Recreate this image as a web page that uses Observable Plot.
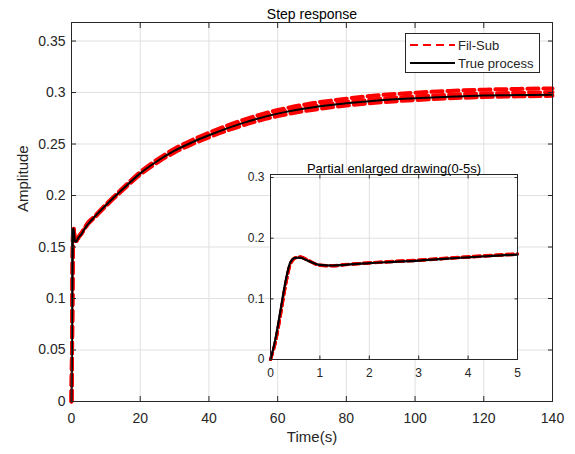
<!DOCTYPE html>
<html>
<head>
<meta charset="utf-8">
<script src="https://cdn.jsdelivr.net/npm/d3@7"></script>
<script src="https://cdn.jsdelivr.net/npm/@observablehq/plot@0.6"></script>
<style>
  html, body { margin: 0; padding: 0; background: white; }
  #wrap { position: relative; width: 575px; height: 454px; overflow: hidden; font-family: "Liberation Sans", Arial, sans-serif; color: #262626; }
  #main, #inset { position: absolute; }
  #main { left: 0; top: 0; }
  #inset { left: 225px; top: 140px; }
  #legend { position: absolute; left: 405px; top: 33px; width: 133px; height: 38px; border: 1px solid #262626; background: white; }
  .lg-row { position: absolute; left: 3px; height: 16px; display: flex; align-items: center; font-size: 13px; color: #262626; white-space: nowrap; }
  .lg-row svg { margin-right: 3px; }
</style>
</head>
<body>
<div id="wrap">
  <div id="main"></div>
  <div id="inset"></div>
  <div id="legend"></div>
</div>
<script>
// ---- data ----
const time = [0, 0.1, 0.2, 0.3, 0.4, 0.5, 0.6, 0.75, 1, 1.25, 1.5, 2, 2.5, 3, 3.5, 4, 4.5, 5, 6.5, 10, 15, 20, 25, 30, 35, 40, 50, 60, 70, 80, 90, 100, 110, 120, 130, 140];
const trueProcess = [0, 0.034, 0.080, 0.127, 0.160, 0.1675, 0.168, 0.163, 0.156, 0.155, 0.156, 0.159, 0.161, 0.163, 0.166, 0.1685, 0.171, 0.173, 0.1785, 0.1905, 0.2065, 0.2215, 0.2335, 0.2435, 0.2515, 0.2585, 0.2705, 0.2795, 0.2855, 0.2895, 0.2925, 0.2945, 0.296, 0.297, 0.2975, 0.2978];
const filSubLow = [0, 0.028, 0.072, 0.120, 0.156, 0.167, 0.169, 0.164, 0.155, 0.154, 0.156, 0.159, 0.1612, 0.1633, 0.1660, 0.1686, 0.1711, 0.1731, 0.1779, 0.1897, 0.2055, 0.2203, 0.2321, 0.2419, 0.2497, 0.2565, 0.2683, 0.2771, 0.2831, 0.2873, 0.2905, 0.2927, 0.2944, 0.2956, 0.2963, 0.2968];
const filSubMid = [0, 0.029, 0.073, 0.121, 0.157, 0.1675, 0.1688, 0.1638, 0.1552, 0.1545, 0.1562, 0.1592, 0.1615, 0.1637, 0.1664, 0.1690, 0.1716, 0.1737, 0.1785, 0.1905, 0.2065, 0.2216, 0.2337, 0.2438, 0.2519, 0.2590, 0.2712, 0.2804, 0.2866, 0.2908, 0.2940, 0.2962, 0.2979, 0.2991, 0.2998, 0.3003];
const filSubHigh = [0, 0.030, 0.074, 0.122, 0.158, 0.168, 0.1692, 0.1642, 0.1556, 0.155, 0.1566, 0.1596, 0.1620, 0.1642, 0.1670, 0.1696, 0.1722, 0.1744, 0.1791, 0.1913, 0.2075, 0.2228, 0.2351, 0.2454, 0.2537, 0.2610, 0.2735, 0.2830, 0.2895, 0.2940, 0.2975, 0.2998, 0.3016, 0.3028, 0.3035, 0.3040];

const mainXTicks = [0, 20, 40, 60, 80, 100, 120, 140];
const mainYTicks = [0, 0.05, 0.1, 0.15, 0.2, 0.25, 0.3, 0.35];
const insetXTicks = [0, 1, 2, 3, 4, 5];
const insetYTicks = [0, 0.1, 0.2, 0.3];

const seriesNames = ["Fil-Sub", "True process"];
const titleText = "Step response";
const insetTitle = "Partial enlarged drawing(0-5s)";
const xLabel = "Time(s)";
const yLabel = "Amplitude";

// ---- tidy tables ----
const filRuns = [filSubLow, filSubMid, filSubHigh];
const redData = filRuns.flatMap((vals, k) => time.map((t, i) => ({t, v: vals[i], run: k})));
const blackData = time.map((t, i) => ({t, v: trueProcess[i]}));
const redInset = redData.filter(d => d.t <= 5);
const blackInset = blackData.filter(d => d.t <= 5);

const FONT = '"Liberation Sans", Arial, sans-serif';
const INK = "#262626";
const GRID = "#e0e0e0";
const fmt = d => String(d);

// ---- main chart ----
const main = Plot.plot({
  width: 575, height: 454,
  marginLeft: 71, marginRight: 23, marginTop: 22, marginBottom: 53,
  style: {fontFamily: FONT, fontSize: "14px", color: INK, background: "white", overflow: "visible"},
  x: {domain: [0, 140]},
  y: {domain: [0, 0.368]},
  marks: [
    Plot.gridX(mainXTicks, {stroke: GRID, strokeOpacity: 1}),
    Plot.gridY(mainYTicks, {stroke: GRID, strokeOpacity: 1}),
    Plot.line(redData, {x: "t", y: "v", z: "run", stroke: "#ff0000", strokeWidth: 4, strokeDasharray: "11,5", curve: "monotone-x"}),
    Plot.line(blackData, {x: "t", y: "v", stroke: "#000", strokeWidth: 2, curve: "monotone-x"}),
    Plot.axisX(mainXTicks, {anchor: "bottom", tickSize: 0, tickPadding: 12, tickFormat: fmt, label: null, fontSize: 14}),
    Plot.axisX(mainXTicks, {anchor: "bottom", tickSize: 5, dy: -5, fill: "none", label: null, stroke: INK}),
    Plot.axisX(mainXTicks, {anchor: "top", tickSize: 5, dy: 5, fill: "none", label: null, stroke: INK}),
    Plot.axisY(mainYTicks, {anchor: "left", tickSize: 0, tickPadding: 6, tickFormat: fmt, label: null, fontSize: 14}),
    Plot.axisY(mainYTicks, {anchor: "left", tickSize: 5, dx: 5, fill: "none", label: null, stroke: INK}),
    Plot.axisY(mainYTicks, {anchor: "right", tickSize: 5, dx: -5, fill: "none", label: null, stroke: INK}),
    Plot.frame({stroke: INK, strokeWidth: 1}),
    Plot.text([titleText], {text: d => d, frameAnchor: "top", dy: -13, fontSize: 14, fill: "#000"}),
    Plot.text([xLabel], {text: d => d, frameAnchor: "bottom", dy: 40, fontSize: 15, fill: INK}),
    Plot.text([yLabel], {text: d => d, frameAnchor: "left", dx: -48, rotate: -90, fontSize: 15, fill: INK})
  ]
});
document.getElementById("main").appendChild(main);

// ---- inset chart ----
const inset = Plot.plot({
  width: 305, height: 245,
  marginLeft: 45, marginRight: 13, marginTop: 34, marginBottom: 26,
  style: {fontFamily: FONT, fontSize: "12px", color: INK, background: "transparent", overflow: "visible"},
  x: {domain: [0, 5]},
  y: {domain: [0, 0.305]},
  marks: [
    Plot.frame({fill: "white", stroke: "none"}),
    Plot.gridX(insetXTicks, {stroke: GRID, strokeOpacity: 1}),
    Plot.gridY(insetYTicks, {stroke: GRID, strokeOpacity: 1}),
    Plot.line(redInset, {x: "t", y: "v", z: "run", stroke: "#ff0000", strokeWidth: 3, strokeDasharray: "7,4", curve: "monotone-x"}),
    Plot.line(blackInset, {x: "t", y: "v", stroke: "#000", strokeWidth: 2.2, curve: "monotone-x"}),
    Plot.axisX(insetXTicks, {anchor: "bottom", tickSize: 0, tickPadding: 9, tickFormat: fmt, label: null, fontSize: 12}),
    Plot.axisX(insetXTicks, {anchor: "bottom", tickSize: 3.5, dy: -3.5, fill: "none", label: null, stroke: INK}),
    Plot.axisX(insetXTicks, {anchor: "top", tickSize: 3.5, dy: 3.5, fill: "none", label: null, stroke: INK}),
    Plot.axisY(insetYTicks, {anchor: "left", tickSize: 0, tickPadding: 6, tickFormat: fmt, label: null, fontSize: 12}),
    Plot.axisY(insetYTicks, {anchor: "left", tickSize: 3.5, dx: 3.5, fill: "none", label: null, stroke: INK}),
    Plot.axisY(insetYTicks, {anchor: "right", tickSize: 3.5, dx: -3.5, fill: "none", label: null, stroke: INK}),
    Plot.frame({stroke: INK, strokeWidth: 1}),
    Plot.text([insetTitle], {text: d => d, frameAnchor: "top", dy: -11, fontSize: 13, fill: "#000"})
  ]
});
document.getElementById("inset").appendChild(inset);

// ---- legend ----
const legend = document.getElementById("legend");
const swatches = [
  {stroke: "#ff0000", dash: "8,5", width: 2},
  {stroke: "#000000", dash: null, width: 2}
];
seriesNames.forEach((name, i) => {
  const row = document.createElement("div");
  row.className = "lg-row";
  row.style.top = (i === 0 ? 3 : 21) + "px";
  const ns = "http://www.w3.org/2000/svg";
  const svg = document.createElementNS(ns, "svg");
  svg.setAttribute("width", 46); svg.setAttribute("height", 16);
  const ln = document.createElementNS(ns, "line");
  ln.setAttribute("x1", 1); ln.setAttribute("x2", 46);
  ln.setAttribute("y1", 8); ln.setAttribute("y2", 8);
  ln.setAttribute("stroke", swatches[i].stroke);
  ln.setAttribute("stroke-width", swatches[i].width);
  if (swatches[i].dash) ln.setAttribute("stroke-dasharray", swatches[i].dash);
  svg.appendChild(ln);
  row.appendChild(svg);
  const span = document.createElement("span");
  span.textContent = name;
  row.appendChild(span);
  legend.appendChild(row);
});
</script>
</body>
</html>
